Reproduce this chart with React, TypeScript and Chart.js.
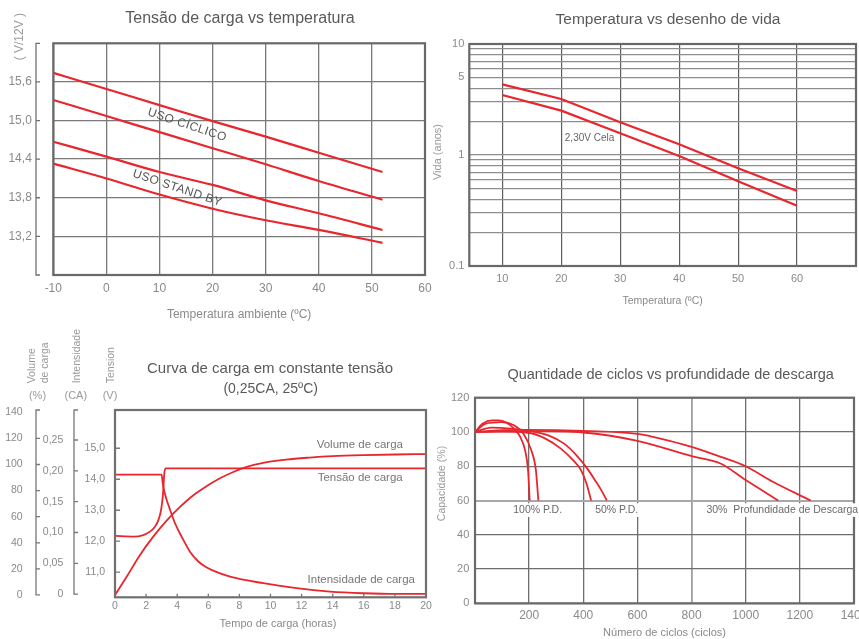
import React, { useEffect, useRef } from 'react';
import { Chart, registerables } from 'chart.js';
Chart.register(...registerables);

const W = 859;
const H = 639;
const FONT = "'Liberation Sans', Arial, sans-serif";
const RED = '#e8262d';
const TICK = '#8a8a8a';
const TITLE = '#5a5a5a';
const GRID = '#7a7a7a';
const FRAME = '#686868';

// ---------- Chart 1: Tensão de carga vs temperatura ----------
const c1Temps = [-10, 0, 10, 20, 30, 40, 52];
const c1CyclicHigh = [15.74, 15.49, 15.24, 14.99, 14.75, 14.5, 14.2];
const c1CyclicLow = [15.32, 15.07, 14.82, 14.57, 14.32, 14.06, 13.77];
const c1StandbyHigh = [14.67, 14.44, 14.2, 14.0, 13.76, 13.56, 13.3];
const c1StandbyLow = [14.33, 14.1, 13.85, 13.63, 13.45, 13.3, 13.1];
const c1XTicks = [-10, 0, 10, 20, 30, 40, 50, 60];
const c1YTicks = [13.2, 13.8, 14.4, 15.0, 15.6];

// ---------- Chart 2: Temperatura vs desenho de vida ----------
const c2Temps = [10, 20, 30, 40, 50, 60];
const c2Upper = [4.33, 3.2, 1.97, 1.25, 0.76, 0.474];
const c2Lower = [3.47, 2.51, 1.57, 0.98, 0.58, 0.349];
const c2XTicks = [10, 20, 30, 40, 50, 60];
const c2Mantissas = [1, 2, 3, 4, 5, 6, 7, 8, 9];
const c2YLabels = [0.1, 1, 5, 10];

// ---------- Chart 3: Curva de carga em constante tensão ----------
const c3XTicks = [0, 2, 4, 6, 8, 10, 12, 14, 16, 18, 20];
const c3VolTicks = [0, 20, 40, 60, 80, 100, 120, 140];
const c3CurTicks = [0, 0.05, 0.1, 0.15, 0.2, 0.25];
const c3TenTicks = [11, 12, 13, 14, 15];
const c3TensionT = [0, 1.18, 1.82, 2.25, 2.57, 2.79, 2.96, 3.07, 3.13, 3.17, 3.26, 20];
const c3TensionV = [12.17, 12.15, 12.2, 12.31, 12.47, 12.68, 13.0, 13.43, 13.87, 14.19, 14.35, 14.35];
const c3CurrentT = [0, 3.0, 3.07, 3.15, 3.32, 3.54, 3.86, 4.29, 4.82, 5.36, 5.79, 6.43, 7.4, 9.54, 11.68, 13.83, 15.97, 18.1, 20];
const c3CurrentA = [0.194, 0.194, 0.18, 0.169, 0.153, 0.137, 0.115, 0.093, 0.069, 0.053, 0.045, 0.037, 0.0285, 0.0178, 0.0097, 0.0042, 0.0016, 0.0005, 0.0005];
const c3VolumeT = [0, 0.75, 1.61, 2.46, 3.32, 4.18, 5.04, 5.9, 6.75, 7.61, 8.47, 9.6, 11, 12.5, 14, 16, 18, 20];
const c3VolumeP = [0, 14, 30.7, 44.7, 57, 67.5, 76.5, 83.5, 89.5, 94.3, 98.2, 101.5, 103.8, 105.3, 106.4, 107.2, 107.7, 108];

// ---------- Chart 4: Quantidade de ciclos vs profundidade de descarga ----------
const c4XTicks = [200, 400, 600, 800, 1000, 1200, 1400];
const c4YTicks = [0, 20, 40, 60, 80, 100, 120];
const c4Pd100aX = [0, 29, 63, 87, 115, 144, 167, 185, 196, 202];
const c4Pd100aY = [100, 104.9, 106.8, 106.8, 105.5, 101.9, 97.1, 89.3, 77.6, 60];
const c4Pd100bX = [0, 40, 98, 144, 179, 208, 225, 234];
const c4Pd100bY = [100, 104.9, 105.8, 103.9, 99, 89.3, 77.6, 60];
const c4Pd50aX = [0, 98, 202, 260, 317, 363, 392, 412, 429];
const c4Pd50aY = [100, 100.4, 99.4, 96.1, 90.3, 83.4, 77.6, 69.8, 60];
const c4Pd50bX = [0, 60, 130, 202, 271, 329, 375, 415, 444, 467, 487];
const c4Pd50bY = [100, 102.5, 102, 100.6, 98, 93.2, 86.4, 78.6, 71.7, 65.9, 60];
const c4Pd30aX = [0, 100, 200, 400, 600, 800, 900, 1000, 1100, 1240];
const c4Pd30aY = [100, 101, 101.2, 100.6, 98.9, 91.3, 85.9, 80, 70.9, 60];
const c4Pd30bX = [0, 200, 400, 600, 800, 907, 1000, 1120];
const c4Pd30bY = [100, 100.5, 99.7, 94.8, 85.9, 81.6, 71.9, 60];

// ---------- helpers ----------
type TextItem = {
  text: string; x: number; y: number; size: number; color?: string;
  align?: CanvasTextAlign; rotate?: number; spacing?: number; bg?: boolean;
};

function drawText(ctx: CanvasRenderingContext2D, t: TextItem) {
  ctx.save();
  ctx.translate(t.x, t.y);
  if (t.rotate) ctx.rotate((t.rotate * Math.PI) / 180);
  ctx.font = `${t.size}px ${FONT}`;
  (ctx as any).letterSpacing = `${t.spacing ?? 0}px`;
  const align = t.align ?? 'center';
  ctx.textAlign = align;
  ctx.textBaseline = 'middle';
  if (t.bg) {
    const w = ctx.measureText(t.text).width;
    const x0 = align === 'center' ? -w / 2 : align === 'right' ? -w : 0;
    ctx.fillStyle = '#ffffff';
    ctx.fillRect(x0 - 2, -t.size * 0.65, w + 4, t.size * 1.3);
  }
  ctx.fillStyle = t.color ?? '#888';
  ctx.fillText(t.text, 0, 0);
  ctx.restore();
}

function drawFrame(chart: any, color = FRAME, lw = 2.2) {
  const { ctx, chartArea: a } = chart;
  ctx.save();
  ctx.strokeStyle = color;
  ctx.lineWidth = lw;
  ctx.strokeRect(a.left, a.top, a.right - a.left, a.bottom - a.top);
  ctx.restore();
}

function drawBracket(ctx: CanvasRenderingContext2D, x: number, yTop: number, yBot: number, ticks: number[], len: number, color = '#777', lw = 1.3) {
  ctx.save();
  ctx.strokeStyle = color;
  ctx.lineWidth = lw;
  ctx.beginPath();
  ctx.moveTo(x + len, yTop);
  ctx.lineTo(x, yTop);
  ctx.lineTo(x, yBot);
  ctx.lineTo(x + len, yBot);
  for (const y of ticks) {
    ctx.moveTo(x, y);
    ctx.lineTo(x + len, y);
  }
  ctx.stroke();
  ctx.restore();
}

const pts = (xs: number[], ys: number[]) => xs.map((x, i) => ({ x, y: ys[i] }));
const comma = (v: number, d: number) => v.toFixed(d).replace('.', ',');
const setTicks = (vals: number[]) => (s: any) => { s.ticks = vals.map((value) => ({ value })); };
const fitH = (h: number) => (s: any) => { s.height = h; s.paddingLeft = 0; s.paddingRight = 0; };
const fitW = (w: number) => (s: any) => { s.width = w; s.paddingTop = 0; s.paddingBottom = 0; };
const tickFont = (size: number) => ({ family: FONT, size });

const lineDs = (data: any[], extra: any = {}) => ({
  data, borderColor: RED, borderWidth: 2, pointRadius: 0, fill: false,
  cubicInterpolationMode: 'monotone', ...extra,
});

const baseOptions = (padding: any) => ({
  responsive: false,
  animation: false,
  devicePixelRatio: 1,
  layout: { padding, autoPadding: false },
  plugins: { legend: { display: false }, tooltip: { enabled: false }, title: { display: false } },
});

// ---------- chart configs ----------
function makeChart1(): any {
  const left = 53.3, top = 43.3, right = 425, bottom = 275;
  return {
    type: 'line',
    data: {
      datasets: [
        lineDs(pts(c1Temps, c1CyclicHigh), { borderWidth: 2.2 }),
        lineDs(pts(c1Temps, c1CyclicLow), { borderWidth: 2.2 }),
        lineDs(pts(c1Temps, c1StandbyHigh), { borderWidth: 2.2 }),
        lineDs(pts(c1Temps, c1StandbyLow), { borderWidth: 2.2 }),
      ],
    },
    options: {
      ...baseOptions({ left: 0, top, right: W - right, bottom: H - bottom - 30 }),
      scales: {
        x: {
          type: 'linear', min: -10, max: 60,
          afterBuildTicks: setTicks(c1XTicks), afterFit: fitH(30),
          grid: { color: GRID, lineWidth: 1.3, drawTicks: false },
          border: { display: false },
          ticks: { color: TICK, font: tickFont(12), padding: 6, maxRotation: 0, autoSkip: false, callback: (v: number) => String(v) },
        },
        y: {
          type: 'linear', min: 12.6, max: 16.2,
          afterBuildTicks: setTicks(c1YTicks), afterFit: fitW(left),
          grid: { color: GRID, lineWidth: 1.3, drawTicks: false },
          border: { display: false },
          ticks: { color: TICK, font: tickFont(12), padding: 21.5, autoSkip: false, callback: (v: number) => comma(v, 1) },
        },
      },
    },
    plugins: [{
      id: 'decor1',
      afterDraw(chart: any) {
        const { ctx, chartArea: a, scales } = chart;
        const xs = scales.x, ys = scales.y;
        drawFrame(chart);
        drawBracket(ctx, a.left - 17.3, a.top, a.bottom, c1YTicks.map((v) => ys.getPixelForValue(v)), 4, '#707070', 1.3);
        drawText(ctx, { text: 'Tensão de carga vs temperatura', x: 240, y: 18.5, size: 16, color: TITLE });
        drawText(ctx, { text: 'Temperatura ambiente (ºC)', x: (a.left + a.right) / 2, y: 315, size: 12, color: TICK });
        drawText(ctx, { text: '( V/12V )', x: 20, y: 36.7, size: 12, color: '#9a9a9a', rotate: -90 });
        drawText(ctx, { text: 'USO CÍCLICO', x: xs.getPixelForValue(15.2), y: ys.getPixelForValue(14.93), size: 12, color: '#555', rotate: 18.5, spacing: 0.4 });
        drawText(ctx, { text: 'USO STAND BY', x: xs.getPixelForValue(13.35), y: ys.getPixelForValue(13.95), size: 12, color: '#555', rotate: 18.5, spacing: 0.4 });
      },
    }],
  };
}

function makeChart2(): any {
  const left = 469.3, top = 44, right = 856, bottom = 266;
  const yTicks = [...c2Mantissas.map((m) => m / 10), ...c2Mantissas, 10];
  return {
    type: 'line',
    data: {
      datasets: [
        lineDs(pts(c2Temps, c2Upper), { borderWidth: 2.2, cubicInterpolationMode: 'default', tension: 0 }),
        lineDs(pts(c2Temps, c2Lower), { borderWidth: 2.2, cubicInterpolationMode: 'default', tension: 0 }),
      ],
    },
    options: {
      ...baseOptions({ left: 430, top, right: W - right, bottom: H - bottom - 30 }),
      scales: {
        x: {
          type: 'linear', min: 4.4, max: 70,
          afterBuildTicks: setTicks(c2XTicks), afterFit: fitH(30),
          grid: { color: '#5e5e5e', lineWidth: 1.2, drawTicks: false },
          border: { display: false },
          ticks: { color: TICK, font: tickFont(11), padding: 6.7, maxRotation: 0, autoSkip: false, callback: (v: number) => String(v) },
        },
        y: {
          type: 'logarithmic', min: 0.1, max: 10,
          afterBuildTicks: setTicks(yTicks), afterFit: fitW(left - 430),
          grid: { color: '#8e8e8e', lineWidth: 1.2, drawTicks: false },
          border: { display: false },
          ticks: {
            color: TICK, font: tickFont(11), padding: 5, autoSkip: false,
            callback: (v: number) => {
              const hit = c2YLabels.find((l) => Math.abs(l - v) < 1e-6);
              return hit === undefined ? '' : String(hit);
            },
          },
        },
      },
    },
    plugins: [{
      id: 'decor2',
      afterDraw(chart: any) {
        const { ctx, chartArea: a, scales } = chart;
        drawFrame(chart);
        drawText(ctx, { text: 'Temperatura vs desenho de vida', x: 668, y: 20, size: 15.5, color: TITLE });
        drawText(ctx, { text: 'Temperatura (ºC)', x: (a.left + a.right) / 2, y: 301, size: 10.5, color: TICK });
        drawText(ctx, { text: 'Vida (anos)', x: 438, y: 152, size: 11, color: '#9a9a9a', rotate: -90 });
        drawText(ctx, { text: '2,30V Cela', x: scales.x.getPixelForValue(20.6), y: scales.y.getPixelForValue(1.42), size: 10, color: '#666', align: 'left' });
      },
    }],
  };
}

function makeChart3(): any {
  const top = 410, right = 426, bottom = 597.3;
  const hidden = { display: false, drawTicks: false };
  return {
    type: 'line',
    data: {
      datasets: [
        lineDs(pts(c3TensionT, c3TensionV), { yAxisID: 'yT', borderWidth: 1.8 }),
        lineDs(pts(c3CurrentT, c3CurrentA), { yAxisID: 'yI', borderWidth: 1.8 }),
        lineDs(pts(c3VolumeT, c3VolumeP), { yAxisID: 'yV', borderWidth: 1.8 }),
      ],
    },
    options: {
      ...baseOptions({ left: 0, top, right: W - right, bottom: H - bottom - 25 }),
      scales: {
        x: {
          type: 'linear', min: 0, max: 20,
          afterBuildTicks: setTicks(c3XTicks), afterFit: fitH(25),
          grid: hidden, border: { display: false },
          ticks: { color: TICK, font: tickFont(10.5), padding: 2.5, maxRotation: 0, autoSkip: false, callback: (v: number) => String(v) },
        },
        yV: {
          type: 'linear', position: 'left', weight: 3, min: -1.8, max: 141.8,
          afterBuildTicks: setTicks(c3VolTicks), afterFit: fitW(42),
          grid: hidden, border: { display: false },
          ticks: { color: TICK, font: tickFont(10.5), padding: 19.3, autoSkip: false, callback: (v: number) => String(v) },
        },
        yI: {
          type: 'linear', position: 'left', weight: 2, min: -0.005, max: 0.2986,
          afterBuildTicks: setTicks(c3CurTicks), afterFit: fitW(38),
          grid: hidden, border: { display: false },
          ticks: { color: TICK, font: tickFont(10.5), padding: 16.7, autoSkip: false, callback: (v: number) => (v === 0 ? '0' : comma(v, 2)) },
        },
        yT: {
          type: 'linear', position: 'left', weight: 1, min: 10.19, max: 16.235,
          afterBuildTicks: setTicks(c3TenTicks), afterFit: fitW(35),
          grid: hidden, border: { display: false },
          ticks: { color: TICK, font: tickFont(10.5), padding: 10, autoSkip: false, callback: (v: number) => comma(v, 1) },
        },
      },
    },
    plugins: [{
      id: 'decor3',
      afterDraw(chart: any) {
        const { ctx, chartArea: a, scales } = chart;
        const { x, yV, yI, yT } = scales;
        drawFrame(chart, '#707070', 2.2);
        drawBracket(ctx, yV.right - 6, a.top, yV.getPixelForValue(0), c3VolTicks.slice(1, -1).map((v) => yV.getPixelForValue(v)), 4);
        drawBracket(ctx, yI.right - 6, a.top, yI.getPixelForValue(0), c3CurTicks.slice(1).map((v) => yI.getPixelForValue(v)), 4);
        ctx.save();
        ctx.strokeStyle = '#777';
        ctx.lineWidth = 1.3;
        ctx.beginPath();
        for (const v of c3TenTicks) {
          const py = yT.getPixelForValue(v);
          ctx.moveTo(a.left, py);
          ctx.lineTo(a.left + 5, py);
        }
        for (const v of c3XTicks.slice(1, -1)) {
          const px = x.getPixelForValue(v);
          ctx.moveTo(px, a.bottom);
          ctx.lineTo(px, a.bottom - 3.5);
        }
        ctx.stroke();
        ctx.restore();
        drawText(ctx, { text: 'Curva de carga em constante tensão', x: 270, y: 369, size: 15, color: TITLE });
        drawText(ctx, { text: '(0,25CA, 25ºC)', x: 270.7, y: 389, size: 14, color: TITLE });
        drawText(ctx, { text: 'Tempo de carga (horas)', x: 278, y: 624, size: 11, color: TICK });
        drawText(ctx, { text: '(%)', x: 37.5, y: 395.7, size: 11, color: '#9a9a9a' });
        drawText(ctx, { text: '(CA)', x: 75.8, y: 395.7, size: 11, color: '#9a9a9a' });
        drawText(ctx, { text: '(V)', x: 110, y: 395.7, size: 11, color: '#9a9a9a' });
        const rot = { size: 10.5, color: '#9a9a9a', rotate: -90, align: 'left' as CanvasTextAlign };
        drawText(ctx, { text: 'Volume', x: 31.7, y: 383.3, ...rot });
        drawText(ctx, { text: 'de carga', x: 45, y: 383.3, ...rot });
        drawText(ctx, { text: 'Intensidade', x: 77.3, y: 383.3, ...rot });
        drawText(ctx, { text: 'Tension', x: 111, y: 383.3, ...rot });
        drawText(ctx, { text: 'Volume de carga', x: x.getPixelForValue(18.52), y: yV.getPixelForValue(114.9), size: 11.5, color: '#777', align: 'right' });
        drawText(ctx, { text: 'Tensão de carga', x: x.getPixelForValue(18.5), y: yT.getPixelForValue(14.03), size: 11.5, color: '#777', align: 'right' });
        drawText(ctx, { text: 'Intensidade de carga', x: x.getPixelForValue(19.29), y: yI.getPixelForValue(0.0232), size: 11.5, color: '#777', align: 'right' });
      },
    }],
  };
}

function makeChart4(): any {
  const left = 475, top = 397.7, right = 854, bottom = 603.3;
  return {
    type: 'line',
    data: {
      datasets: [
        lineDs(pts(c4Pd100aX, c4Pd100aY), { borderWidth: 1.8 }),
        lineDs(pts(c4Pd100bX, c4Pd100bY), { borderWidth: 1.8 }),
        lineDs(pts(c4Pd50aX, c4Pd50aY), { borderWidth: 1.8 }),
        lineDs(pts(c4Pd50bX, c4Pd50bY), { borderWidth: 1.8 }),
        lineDs(pts(c4Pd30aX, c4Pd30aY), { borderWidth: 1.8 }),
        lineDs(pts(c4Pd30bX, c4Pd30bY), { borderWidth: 1.8 }),
      ],
    },
    options: {
      ...baseOptions({ left: 430, top, right: W - right, bottom: H - bottom - 25 }),
      scales: {
        x: {
          type: 'linear', min: 0, max: 1400,
          afterBuildTicks: setTicks(c4XTicks), afterFit: fitH(25),
          grid: {
            color: (c: any) => (c.tick && c.tick.value === 800 ? '#a0a0a0' : '#6e6e6e'),
            lineWidth: (c: any) => (c.tick && c.tick.value === 800 ? 1.8 : 1.3),
            drawTicks: false,
          },
          border: { display: false },
          ticks: { color: TICK, font: tickFont(12), padding: 5.5, maxRotation: 0, autoSkip: false, callback: (v: number) => String(v) },
        },
        y: {
          type: 'linear', min: 0, max: 120,
          afterBuildTicks: setTicks(c4YTicks), afterFit: fitW(left - 430),
          grid: {
            color: (c: any) => (c.tick && c.tick.value === 60 ? '#a8a8a8' : '#6e6e6e'),
            lineWidth: (c: any) => (c.tick && c.tick.value === 60 ? 2 : 1.3),
            drawTicks: false,
          },
          border: { display: false },
          ticks: { color: TICK, font: tickFont(11), padding: 5.7, autoSkip: false, callback: (v: number) => String(v) },
        },
      },
    },
    plugins: [{
      id: 'decor4',
      afterDraw(chart: any) {
        const { ctx, chartArea: a, scales } = chart;
        const { x, y } = scales;
        drawFrame(chart, '#6a6a6a', 2.2);
        drawText(ctx, { text: 'Quantidade de ciclos vs profundidade de descarga', x: 670.7, y: 375, size: 14.5, color: TITLE });
        drawText(ctx, { text: 'Número de ciclos (ciclos)', x: (a.left + a.right) / 2, y: 633.3, size: 11, color: TICK });
        drawText(ctx, { text: 'Capacidade (%)', x: 441.7, y: 483.5, size: 10.5, color: '#9a9a9a', rotate: -90 });
        const lbl = { size: 10.5, color: '#6a6a6a', bg: true };
        drawText(ctx, { text: '100% P.D.', x: x.getPixelForValue(231.6), y: y.getPixelForValue(54.4), ...lbl });
        drawText(ctx, { text: '50% P.D.', x: x.getPixelForValue(523.4), y: y.getPixelForValue(54.4), ...lbl });
        drawText(ctx, { text: '30%  Profundidade de Descarga', x: x.getPixelForValue(854.8), y: y.getPixelForValue(54.4), align: 'left', ...lbl });
      },
    }],
  };
}

function ChartCanvas({ make }: { make: () => any }) {
  const ref = useRef<HTMLCanvasElement>(null);
  useEffect(() => {
    const chart = new Chart(ref.current as HTMLCanvasElement, make());
    return () => chart.destroy();
  }, [make]);
  return (
    <canvas
      ref={ref}
      width={W}
      height={H}
      style={{ position: 'absolute', left: 0, top: 0, width: W, height: H }}
    />
  );
}

export default function App() {
  return (
    <div style={{ position: 'fixed', left: 0, top: 0, width: W, height: H, background: '#ffffff', overflow: 'hidden' }}>
      <ChartCanvas make={makeChart1} />
      <ChartCanvas make={makeChart2} />
      <ChartCanvas make={makeChart3} />
      <ChartCanvas make={makeChart4} />
    </div>
  );
}
